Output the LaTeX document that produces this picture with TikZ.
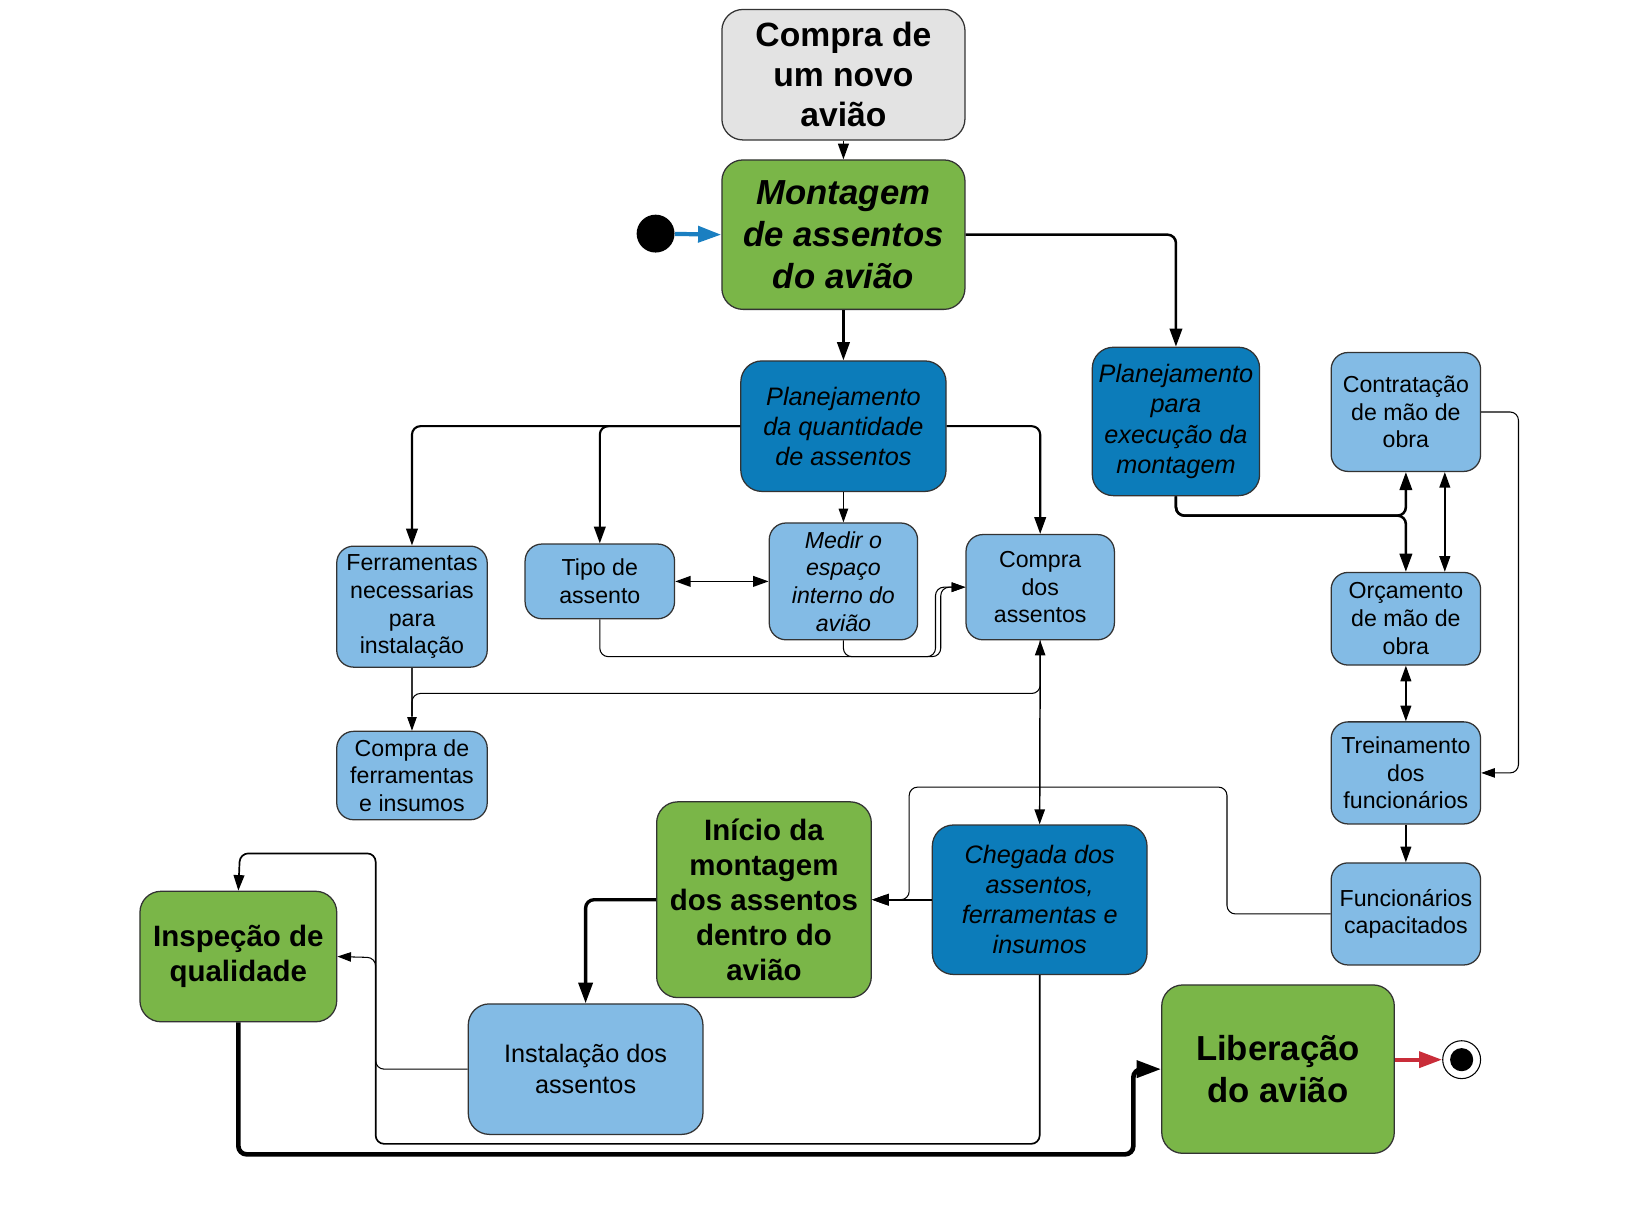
\documentclass[tikz,border=0pt]{standalone}
\usepackage{fontspec}
\setmainfont{Liberation Sans}
\usetikzlibrary{arrows.meta}

\definecolor{cinza}{HTML}{E3E3E3}
\definecolor{verde}{HTML}{7AB648}
\definecolor{azulesc}{HTML}{0C7CBA}
\definecolor{azulcl}{HTML}{83BBE5}
\definecolor{vermelho}{HTML}{C92D39}
\definecolor{azulseta}{HTML}{1A7FC1}
\definecolor{borda}{HTML}{333333}

\tikzset{
  caixa/.style={draw=borda, line width=0.6pt, rounded corners=8pt, align=center, inner sep=1pt},
  claro/.style={caixa, fill=azulcl, font=\fontsize{11}{13.2}\selectfont},
  escuro/.style={caixa, fill=azulesc, rounded corners=10pt, font=\fontsize{12}{14.3}\selectfont\itshape},
  verdebox/.style={caixa, fill=verde, rounded corners=10pt, font=\fontsize{14}{16.7}\selectfont\bfseries},
  liga/.style={rounded corners=4pt, line width=0.5pt},
}

\begin{document}
\begin{tikzpicture}[x=0.5pt, y=-0.5pt, >={Triangle[length=5pt 3, width=3.5pt 2]}]
\useasboundingbox (0,0) rectangle (1568,1150);

% caixas
\node[caixa, fill=cinza, rounded corners=10pt, font=\fontsize{16}{19}\selectfont\bfseries, minimum width=115.5pt, minimum height=62pt] (novo) at (801.5,71) {Compra de\\um novo\\avião};
\node[verdebox, font=\fontsize{16.5}{20}\selectfont\bfseries\itshape, minimum width=115.5pt, minimum height=71pt] (mont) at (801.5,223) {Montagem\\de assentos\\do avião};
\node[escuro, minimum width=97.5pt, minimum height=62pt] (pqtd) at (801.5,405) {Planejamento\\da quantidade\\de assentos};
\node[escuro, minimum width=79.5pt, minimum height=70.5pt] (pexe) at (1117.5,400.5) {Planejamento\\para\\execução da\\montagem};
\node[claro, minimum width=71pt, minimum height=56.5pt] (contr) at (1336,391.5) {Contratação\\de mão de\\obra};
\node[claro, minimum width=71pt, minimum height=44pt] (orc) at (1336,588) {Orçamento\\de mão de\\obra};
\node[claro, minimum width=71pt, minimum height=48.5pt] (trein) at (1336,734.5) {Treinamento\\dos\\funcionários};
\node[claro, minimum width=71pt, minimum height=48.5pt] (func) at (1336,868.5) {Funcionários\\capacitados};
\node[claro, minimum width=71.5pt, minimum height=57.5pt] (ferr) at (391.5,576.5) {Ferramentas\\necessarias\\para\\instalação};
\node[claro, minimum width=71pt, minimum height=35.5pt] (tipo) at (570,552.5) {Tipo de\\assento};
\node[claro, font=\fontsize{11}{13.2}\selectfont\itshape, minimum width=70.5pt, minimum height=55.5pt] (medir) at (801.5,552.5) {Medir o\\espaço\\interno do\\avião};
\node[claro, minimum width=70.5pt, minimum height=50pt] (cassent) at (988.5,558) {Compra\\dos\\assentos};
\node[claro, minimum width=71.5pt, minimum height=42pt] (cferr) at (391.5,737) {Compra de\\ferramentas\\e insumos};
\node[verdebox, minimum width=102pt, minimum height=93pt] (inicio) at (726,855) {Início da\\montagem\\dos assentos\\dentro do\\avião};
\node[escuro, minimum width=102pt, minimum height=71pt] (cheg) at (988,855) {Chegada dos\\assentos,\\ferramentas e\\insumos};
\node[verdebox, minimum width=93.5pt, minimum height=62pt] (insp) at (226.5,909) {Inspeção de\\qualidade};
\node[claro, rounded corners=10pt, font=\fontsize{12}{14.5}\selectfont, minimum width=111.5pt, minimum height=62pt] (inst) at (556.5,1016) {Instalação dos\\assentos};
\node[verdebox, font=\fontsize{16.5}{20}\selectfont\bfseries, minimum width=110.5pt, minimum height=80pt] (lib) at (1214.5,1016) {Liberação\\do avião};

% inicio e fim
\node[circle, fill=black, minimum size=18pt, inner sep=0pt] (ini) at (623,222) {};
\node[circle, draw=black, line width=0.5pt, fill=white, minimum size=18pt, inner sep=0pt] (fim) at (1389,1007) {};
\fill (fim.center) circle (5.5pt);

% ligacoes
\draw[->, line width=2pt, azulseta] (ini) -- (mont.west);
\draw[->, vermelho, line width=2pt] (lib.east |- fim) -- (fim);
\draw[->, liga, line width=0.8pt] (novo.south) -- (mont.north);
\draw[->, liga, line width=1.2pt] (mont.south) -- (pqtd.north);
\draw[->, liga, line width=1.2pt] (mont.east) -| (pexe.north);

\draw[->, liga, line width=1pt] (pqtd.west) -| (ferr.north);
\draw[->, liga, line width=1pt] (pqtd.west) -| (tipo.north);
\draw[->, liga, line width=1pt] (pqtd.east) -| (cassent.north);
\draw[->, liga] (pqtd.south) -- (medir.north);
\draw[<->, liga, line width=0.8pt] (tipo.east) -- (medir.west);
\draw[->, liga] (tipo.south) |- (889,624) |- (cassent.west);
\draw[->, liga] (medir.south) |- (894,624) |- (cassent.west);

\draw[liga, borda] (ferr.south) -- (391.5,680);
\draw[->, liga] (cassent.south) |- (391.5,659) -- (cferr.north);
\draw[<->, liga, line width=0.7pt] (cassent.south) -- (cheg.north);

\draw[->, liga, line width=1.2pt] (pexe.south) |- (1336,490) -- (contr.south);
\draw[->, liga, line width=1.2pt] (pexe.south) |- (1336,490) -- (orc.north);
\draw[<->, liga, line width=0.8pt] ([xshift=18.5pt]orc.north) -- ([xshift=18.5pt]contr.south);
\draw[<->, liga, line width=0.8pt] (orc.south) -- (trein.north);
\draw[->, liga, line width=0.8pt] (trein.south) -- (func.north);
\draw[->, liga] (contr.east) -| (1443,734.5) -- (trein.east);

\draw[->, liga] (func.west) -| (1166,748) -| (864,855) -- (inicio.east);
\draw[->, liga, line width=1pt] (cheg.west) -- (inicio.east);
\draw[->, liga, line width=1.6pt] (inicio.west) -| (inst.north);
\draw[->, liga] (inst.west) -| (357,910) -- (insp.east);
\draw[->, liga, line width=0.8pt] (cheg.south) |- (357,1087) |- (228,811) -- (insp.north);
\draw[->, liga, line width=2.2pt] (insp.south) |- (1077,1097) |- (lib.west);

\end{tikzpicture}
\end{document}
